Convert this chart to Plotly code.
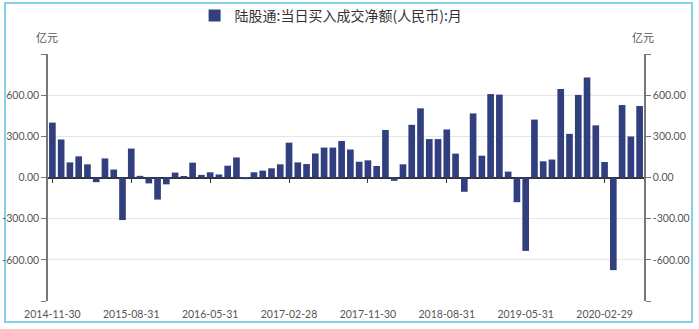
import pandas as pd
import plotly.graph_objects as go

series_name = "陆股通:当日买入成交净额(人民币):月"
unit_label = "亿元"

months = [d.strftime("%Y-%m-%d") for d in pd.date_range("2014-11-30", periods=68, freq="ME")]

net_buy = [
    400, 277, 110, 154, 96, -34, 139, 58, -310, 211,
    12, -43, -161, -50, 36, 5, 108, 19, 38, 22,
    86, 146, -12, 38, 50, 67, 96, 254, 110, 98,
    175, 218, 218, 266, 204, 115, 125, 84, 346, -24,
    96, 384, 504, 280, 280, 350, 174, -104, 467, 159,
    608, 604, 43, -180, -535, 422, 118, 131, 645, 318,
    602, 729, 380, 113, -675, 528, 299, 521,
]

tick_labels = ["2014-11-30", "2015-08-31", "2016-05-31", "2017-02-28",
               "2017-11-30", "2018-08-31", "2019-05-31", "2020-02-29"]
y_ticks = [-900, -600, -300, 0, 300, 600, 900]
y_text = ["", "-600.00", "-300.00", "0.00", "300.00", "600.00", ""]

bar_color = "#323f7e"
label_font = dict(family="Lato", size=10.5, color="#555555")

fig = go.Figure()
fig.add_trace(go.Bar(x=months, y=net_buy, name=series_name,
                     marker=dict(color=bar_color, line=dict(width=0)),
                     xaxis="x", yaxis="y"))
# helper traces to carry the mirrored axes
fig.add_trace(go.Scatter(x=months, y=[None] * len(months), xaxis="x2", yaxis="y",
                         showlegend=False, hoverinfo="skip", mode="lines"))
fig.add_trace(go.Scatter(x=months, y=[None] * len(months), xaxis="x", yaxis="y2",
                         showlegend=False, hoverinfo="skip", mode="lines"))

W, H = 699, 329
L, R, T, B = 48, 55, 54, 28
pw, ph = W - L - R, H - T - B

def px_x(p):
    return (p - L) / pw

def px_y(p):
    return (H - B - p) / ph

fig.update_layout(
    width=W, height=H,
    margin=dict(l=L, r=R, t=T, b=B, pad=0, autoexpand=False),
    paper_bgcolor="white", plot_bgcolor="white",
    bargap=0.24,
    showlegend=True,
    legend=dict(orientation="h", x=0.475, xanchor="center", y=px_y(16), yanchor="middle",
                font=dict(family="Noto Sans CJK SC", size=14, color="#333333"),
                bgcolor="rgba(0,0,0,0)"),
    xaxis=dict(type="category", categoryorder="array", categoryarray=months,
               range=[-0.5, len(months) - 0.5],
               tickmode="array", tickvals=tick_labels, ticktext=tick_labels,
               showgrid=False, showline=False, zeroline=False,
               ticks="outside", ticklen=3, tickcolor="rgba(0,0,0,0)",
               tickfont=label_font, tickangle=0, anchor="y"),
    xaxis2=dict(type="category", categoryorder="array", categoryarray=months,
                range=[-0.5, len(months) - 0.5], overlaying="x", anchor="free",
                position=0.5, side="bottom",
                tickmode="array", tickvals=tick_labels, showticklabels=False,
                ticks="outside", ticklen=4, tickcolor="#333333", tickwidth=1,
                showgrid=False, showline=False, zeroline=False),
    yaxis=dict(range=[-900, 900], tickmode="array", tickvals=y_ticks, ticktext=y_text,
               showgrid=True, gridcolor="#e6e6e6", gridwidth=1,
               zeroline=True, zerolinecolor="#333333", zerolinewidth=1.5,
               showline=True, linecolor="#777777", linewidth=1.5,
               ticks="outside", ticklen=5, tickcolor="#777777",
               tickfont=label_font, side="left", anchor="x"),
    yaxis2=dict(range=[-900, 900], tickmode="array", tickvals=y_ticks, ticktext=y_text,
                overlaying="y", side="right", anchor="x",
                showgrid=False, zeroline=False,
                showline=True, linecolor="#777777", linewidth=1.5,
                ticks="outside", ticklen=5, tickcolor="#777777",
                tickfont=label_font),
    annotations=[
        dict(text=unit_label, xref="paper", yref="paper", x=px_x(47), y=px_y(37),
             showarrow=False, xanchor="center", yanchor="middle",
             font=dict(family="Noto Sans CJK SC", size=11, color="#555555")),
        dict(text=unit_label, xref="paper", yref="paper", x=px_x(643), y=px_y(37),
             showarrow=False, xanchor="center", yanchor="middle",
             font=dict(family="Noto Sans CJK SC", size=11, color="#555555")),
    ],
    shapes=[
        dict(type="rect", xref="paper", yref="paper",
             x0=px_x(5), x1=px_x(692), y0=px_y(322), y1=px_y(3),
             line=dict(color="#86cfe8", width=2), fillcolor="rgba(0,0,0,0)", layer="below"),
    ],
)

fig.write_html("out.html")
